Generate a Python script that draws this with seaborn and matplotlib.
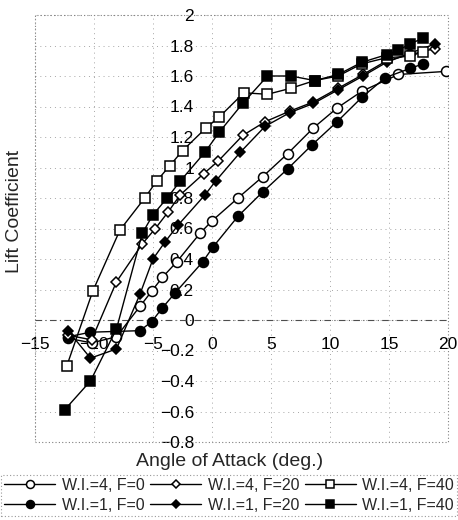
import matplotlib
matplotlib.use("Agg")
import matplotlib.pyplot as plt
from matplotlib.patches import Rectangle
import pandas as pd
import seaborn as sns

# Lift coefficient vs. angle of attack for each W.I. / F configuration
angle_wi4_f0 = [-12.2, -10.2, -8.1, -6.1, -5.1, -4.2, -3.0, -1.0, 0.0, 2.2, 4.3, 6.4, 8.6, 10.6, 12.7, 15.8, 19.8]
cl_wi4_f0 = [-0.12, -0.15, -0.11, 0.09, 0.19, 0.28, 0.38, 0.57, 0.65, 0.80, 0.94, 1.09, 1.26, 1.39, 1.50, 1.61, 1.63]

angle_wi1_f0 = [-12.2, -10.3, -6.1, -5.1, -4.2, -3.1, -0.8, 0.1, 2.2, 4.3, 6.4, 8.5, 10.6, 12.7, 14.7, 16.8, 17.9]
cl_wi1_f0 = [-0.11, -0.08, -0.07, -0.01, 0.08, 0.18, 0.38, 0.48, 0.68, 0.84, 0.99, 1.15, 1.30, 1.46, 1.59, 1.65, 1.68]

angle_wi4_f20 = [-12.2, -10.2, -8.1, -5.9, -4.8, -3.7, -2.7, -0.7, 0.5, 2.6, 4.5, 6.6, 8.6, 10.7, 12.8, 14.8, 16.8, 18.9]
cl_wi4_f20 = [-0.10, -0.13, 0.25, 0.50, 0.60, 0.71, 0.82, 0.96, 1.04, 1.21, 1.30, 1.37, 1.43, 1.52, 1.61, 1.70, 1.74, 1.78]

angle_wi1_f20 = [-12.2, -10.3, -8.1, -6.1, -5.0, -4.0, -2.9, -0.6, 0.3, 2.4, 4.5, 6.6, 8.6, 10.7, 12.8, 14.8, 16.8, 18.9]
cl_wi1_f20 = [-0.07, -0.25, -0.19, 0.17, 0.40, 0.51, 0.62, 0.82, 0.91, 1.10, 1.27, 1.36, 1.42, 1.51, 1.60, 1.69, 1.75, 1.81]

angle_wi4_f40 = [-12.3, -10.1, -7.8, -5.7, -4.7, -3.6, -2.5, -0.5, 0.6, 2.7, 4.7, 6.7, 8.7, 10.7, 12.7, 14.8, 16.8, 17.9]
cl_wi4_f40 = [-0.30, 0.19, 0.59, 0.80, 0.91, 1.01, 1.11, 1.26, 1.33, 1.49, 1.48, 1.52, 1.57, 1.60, 1.68, 1.72, 1.73, 1.76]

angle_wi1_f40 = [-12.5, -10.3, -8.1, -5.9, -5.0, -3.8, -2.7, -0.6, 0.6, 2.6, 4.7, 6.7, 8.7, 10.7, 12.7, 14.8, 15.8, 16.8, 17.9]
cl_wi1_f40 = [-0.59, -0.40, -0.06, 0.57, 0.69, 0.80, 0.91, 1.10, 1.23, 1.42, 1.60, 1.60, 1.57, 1.61, 1.69, 1.74, 1.77, 1.81, 1.85]

series_labels = ["W.I.=4, F=0", "W.I.=1, F=0", "W.I.=4, F=20",
                 "W.I.=1, F=20", "W.I.=4, F=40", "W.I.=1, F=40"]

x_ticks = [-15, -10, -5, 0, 5, 10, 15, 20]
x_tick_labels = ["\u221215", "\u221210", "\u22125", "0", "5", "10", "15", "20"]
y_ticks = [-0.8, -0.6, -0.4, -0.2, 0.0, 0.2, 0.4, 0.6, 0.8, 1.0, 1.2, 1.4, 1.6, 1.8, 2.0]
y_tick_labels = ["\u22120.8", "\u22120.6", "\u22120.4", "\u22120.2", "0", "0.2", "0.4",
                 "0.6", "0.8", "1", "1.2", "1.4", "1.6", "1.8", "2"]

sns.set_theme(style="white")
plt.rcParams["font.family"] = ["Liberation Sans", "DejaVu Sans"]

fig = plt.figure(figsize=(4.58, 5.2), dpi=100)
ax = fig.add_axes([35 / 458, 1 - 442 / 520, 413 / 458, 427 / 520])

# (angles, cl, marker, filled, markersize)
styles = [
    (angle_wi4_f0, cl_wi4_f0, "o", False, 7.2),
    (angle_wi1_f0, cl_wi1_f0, "o", True, 7.2),
    (angle_wi4_f20, cl_wi4_f20, "D", False, 5.4),
    (angle_wi1_f20, cl_wi1_f20, "D", True, 5.4),
    (angle_wi4_f40, cl_wi4_f40, "s", False, 7.2),
    (angle_wi1_f40, cl_wi1_f40, "s", True, 7.2),
]

for label, (angles, cl, mk, filled, ms) in zip(series_labels, styles):
    df = pd.DataFrame({"angle": angles, "cl": cl})
    sns.lineplot(data=df, x="angle", y="cl", ax=ax, sort=False, estimator=None,
                 color="black", linewidth=1.0, marker=mk, markersize=ms,
                 markerfacecolor="black" if filled else "white",
                 markeredgecolor="black", markeredgewidth=1.1, label=label,
                 zorder=3)

if ax.get_legend() is not None:
    ax.get_legend().remove()

ax.set_xlim(-15, 20)
ax.set_ylim(-0.8, 2.0)
ax.set_xticks(x_ticks, labels=x_tick_labels)
ax.set_yticks(y_ticks, labels=y_tick_labels)

# axes cross at the origin, tick labels follow the zero lines
for side in ["left", "bottom"]:
    ax.spines[side].set_position(("data", 0))
for sp in ax.spines.values():
    sp.set_visible(False)

ax.tick_params(axis="both", length=0, labelsize=12.5, colors="black")
ax.tick_params(axis="x", pad=12)
ax.tick_params(axis="y", pad=13)

ax.grid(True, linestyle=(0, (1, 4)), color="0.65", linewidth=0.7)
ax.axhline(0, color="0.3", linewidth=0.8, linestyle=(0, (6, 3, 1, 3)), zorder=1)
ax.add_patch(Rectangle((0, 0), 1, 1, transform=ax.transAxes, fill=False,
                       linestyle=(0, (1, 2)), edgecolor="0.5", linewidth=0.8,
                       clip_on=False))

ax.set_xlabel("Angle of Attack (deg.)", fontsize=14)
ax.set_ylabel("Lift Coefficient", fontsize=14)
ax.xaxis.set_label_coords(0.47, -0.026)
ax.yaxis.set_label_coords(-0.03, 0.54)

handles = ax.get_lines()[:6]
leg = fig.legend(handles, series_labels, ncol=3, loc="lower left",
                 bbox_to_anchor=(0.002, 0.008, 0.996, 0.086), mode="expand",
                 fontsize=11.5, handlelength=3.2, handletextpad=0.4,
                 columnspacing=0.6, borderpad=0.2, borderaxespad=0,
                 labelspacing=0.3, markerscale=0.8, frameon=True, fancybox=False)
leg.get_frame().set_linestyle((0, (1, 2)))
leg.get_frame().set_edgecolor("0.5")
leg.get_frame().set_linewidth(0.8)

fig.savefig("out.png", dpi=100)
